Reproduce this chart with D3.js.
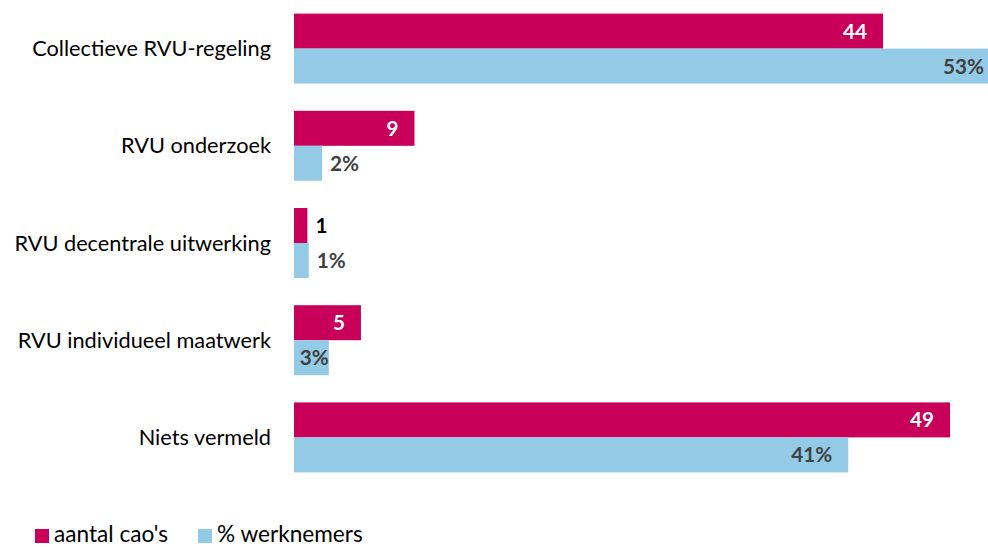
<!DOCTYPE html>
<html><head><meta charset="utf-8">
<script src="https://cdn.jsdelivr.net/npm/d3@7"></script>
<style>html,body{margin:0;padding:0;background:#fff;overflow:hidden}</style>
</head><body>
<svg id="c" width="988" height="547"></svg>
<script>
const categories = ["Collectieve RVU-regeling","RVU onderzoek","RVU decentrale uitwerking","RVU individueel maatwerk","Niets vermeld"];
const seriesNames = ["aantal cao's","% werknemers"];
const caoValues = [44, 9, 1, 5, 49];
const workerPct = [53, 2.1, 1.1, 2.6, 41.4];
const colors = ["#C8005A", "#93CBE7"];

const W = 988, H = 547;
const svg = d3.select("#c");
const font = "Lato, 'Open Sans', sans-serif";
const x0 = 294;

const x = d3.scaleLinear().domain([0, 49]).range([x0, 950]);
const y = d3.scaleBand().domain(categories).range([0, 486]).paddingInner(0.28).paddingOuter(0.14);
const ys = d3.scaleBand().domain([0,1]).range([0, y.bandwidth()]);

function fitSize(text, weight, target){
  const t = svg.append("text").attr("font-family", font).attr("font-weight", weight).attr("font-size", 100).text(text);
  const w = t.node().getComputedTextLength(); t.remove();
  return 100 * target / w;
}
const catSize = fitSize("Collectieve RVU-regeling", "normal", 239);
const valSize = fitSize("53%", "bold", 41);
const legSize = fitSize("aantal cao's", "normal", 114);

svg.append("defs").append("clipPath").attr("id","clip").append("rect").attr("x",0).attr("y",0).attr("width",W).attr("height",H);

const rows = categories.map((c,i)=>({c, v:[caoValues[i], workerPct[i]]}));
const g = svg.append("g").attr("clip-path","url(#clip)");

rows.forEach(r=>{
  r.v.forEach((v,s)=>{
    const yy = y(r.c) + ys(s);
    g.append("rect").attr("x", x0).attr("y", yy).attr("width", x(v)-x0).attr("height", ys.bandwidth()).attr("fill", colors[s]);
    const end = Math.min(x(v), W);
    const label = s===0 ? d3.format("d")(v) : d3.format(".0f")(v) + "%";
    const inside = (x(v)-x0) > 60 || (s===1 && v>2.5);
    const t = svg.append("text").attr("y", yy + ys.bandwidth()/2).attr("dy","0.36em")
      .attr("font-family", font).attr("font-weight","bold").attr("font-size", valSize).text(label);
    if (inside) {
      const pad = s===1 && v<5 ? 0 : (end >= W ? 4 : 16);
      t.attr("x", end - pad).attr("text-anchor","end").attr("fill", s===0 ? "#fff" : "#404040");
    } else {
      t.attr("x", x(v) + 8).attr("text-anchor","start").attr("fill", s===0 ? "#000" : "#404040");
    }
  });
});

svg.append("g").selectAll("text").data(categories).join("text")
  .attr("x", 271).attr("y", d=>y(d)+y.bandwidth()/2).attr("dy","0.35em")
  .attr("text-anchor","end").attr("font-family", font).attr("font-size", catSize).attr("fill","#000")
  .text(d=>d);

const leg = svg.append("g");
const legX = [35, 198];
seriesNames.forEach((n,i)=>{
  leg.append("rect").attr("x", legX[i]).attr("y", 529).attr("width", 14).attr("height", 14).attr("fill", colors[i]);
  leg.append("text").attr("x", legX[i]+19).attr("y", 542).attr("font-family", font).attr("font-size", legSize).attr("fill","#000").text(n);
});
</script>
</body></html>
